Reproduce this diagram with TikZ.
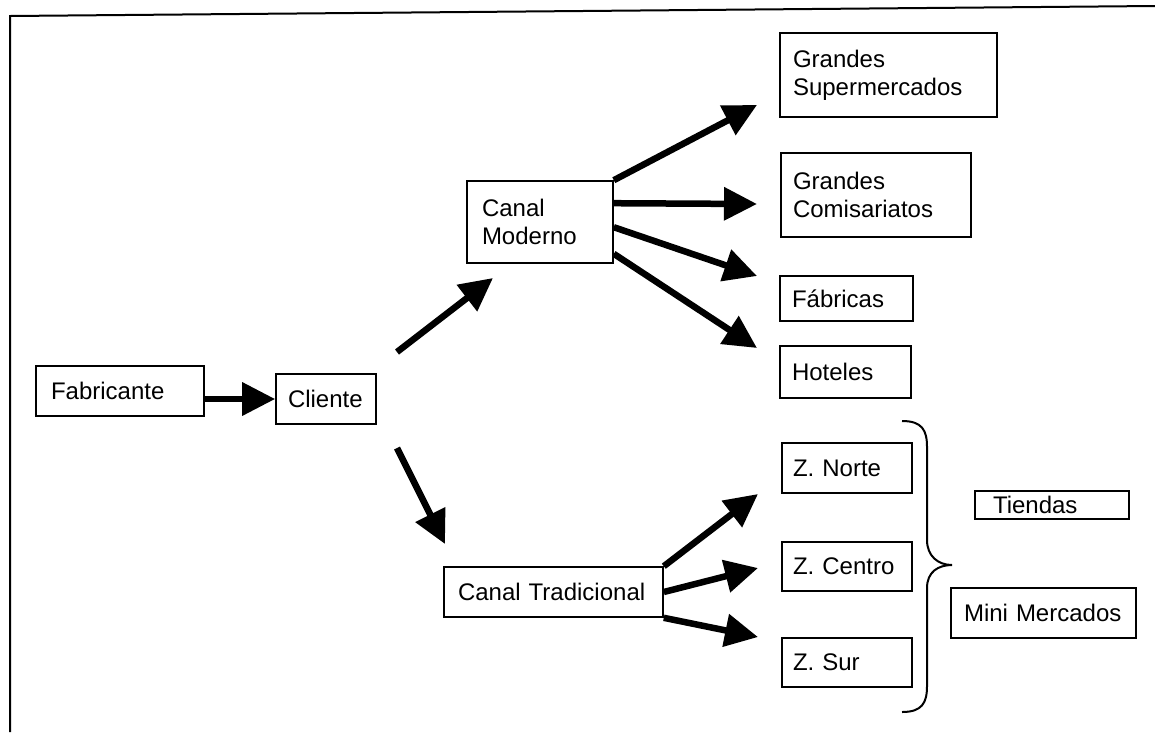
\documentclass[tikz,border=0pt]{standalone}
\usepackage{fontspec}
\setmainfont{Liberation Sans}
\usetikzlibrary{arrows.meta}

\begin{document}
\begin{tikzpicture}[x=1pt,y=-1pt,
  font=\fontsize{24}{28}\selectfont,
  box/.style={draw, line width=1.6pt, inner ysep=0pt, align=left},
  arr/.style={line width=6.5pt, -{Triangle[length=33pt,width=32pt]}},
  frame/.style={line width=2pt},
  bracepath/.style={line width=2pt}]

\useasboundingbox (0,0) rectangle (1155,732);

% outer frame (top and left edges)
\draw[frame] (10,732) -- (10,16) -- (1155,6);

% boxes: pad = inner xsep, text width = box width - 2 pad
\node[box, inner xsep=15pt, text width=138pt, minimum height=50pt] (fab) at (120,391) {Fabricante};
\node[box, inner xsep=12pt, text width=76pt,  minimum height=50pt] (cli) at (326,399) {Cliente};
\node[box, inner xsep=15pt, text width=116pt, minimum height=82pt] (cm)  at (540,222) {Canal\\Moderno};
\node[box, inner xsep=14pt, text width=191pt, minimum height=50pt] (ct)  at (553.5,592) {Canal Tradicional};

\node[box, inner xsep=13pt, text width=191pt, minimum height=84pt] (gs) at (888.5,75)  {Grandes\\Supermercados};
\node[box, inner xsep=12pt, text width=166pt, minimum height=84pt] (gc) at (876,195)   {Grandes\\Comisariatos};
\node[box, inner xsep=12pt, text width=109pt, minimum height=45pt] (fb) at (846.5,298.5) {Fábricas};
\node[box, inner xsep=12pt, text width=107pt, minimum height=52pt] (ho) at (845.5,372) {Hoteles};

\node[box, inner xsep=11pt, text width=108pt, minimum height=50pt] (zn) at (847,468)   {Z. Norte};
\node[box, inner xsep=11pt, text width=108pt, minimum height=49pt] (zc) at (847,566.5) {Z. Centro};
\node[box, inner xsep=11pt, text width=108pt, minimum height=49pt] (zs) at (847,662.5) {Z. Sur};

\node[box, inner xsep=18pt, text width=118pt, minimum height=28pt] (ti) at (1052,505)   {Tiendas};
\node[box, inner xsep=13pt, text width=159pt, minimum height=50pt] (mm) at (1043.5,613) {Mini Mercados};

% free ends of the connectors
\coordinate (sCM) at (397,352);
\coordinate (tCM) at (493,278);
\coordinate (sCT) at (397,448);
\coordinate (tCT) at (445,544);
\coordinate (tGS) at (757,105);
\coordinate (tGC) at (757,204);
\coordinate (tFB) at (757,276);
\coordinate (tHO) at (757,348);
\coordinate (tZN) at (758,494);
\coordinate (tZC) at (758,568);
\coordinate (tZS) at (758,637);

% connectors
\draw[arr] (fab.east |- cli.west) -- (cli.west);
\draw[arr] (sCM) -- (tCM);
\draw[arr] (sCT) -- (tCT);

\draw[arr] (cm.north east) -- (tGS);
\draw[arr] ([yshift=-23pt]cm.north east) -- (tGC);
\draw[arr] ([yshift=-47pt]cm.north east) -- (tFB);
\draw[arr] ([yshift=10pt]cm.south east) -- (tHO);

\draw[arr] (ct.north east) -- (tZN);
\draw[arr] (ct.east) -- (tZC);
\draw[arr] (ct.south east) -- (tZS);

% curly brace grouping the three zones
\draw[bracepath] (902,421) .. controls (922,421) and (927,430) .. (927,447)
  -- (927,540) .. controls (927,556) and (938,565) .. (952,565)
  .. controls (938,565) and (927,572) .. (927,588)
  -- (927,686) .. controls (927,703) and (922,712) .. (902,712);

\end{tikzpicture}
\end{document}
